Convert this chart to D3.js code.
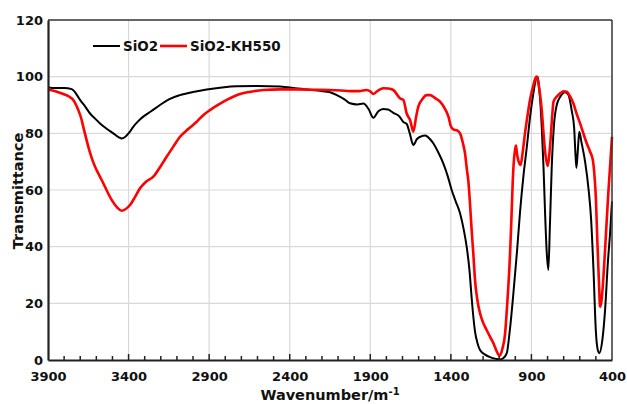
<!DOCTYPE html>
<html><head><meta charset="utf-8">
<script src="https://cdn.jsdelivr.net/npm/d3@7"></script>
<style>body{margin:0;background:#fff}svg{display:block}text{font-family:"DejaVu Sans",sans-serif;font-weight:bold}</style>
</head><body><svg id="c" width="627" height="404"></svg>
<script>
const sio2W = [3900,3850,3800,3753,3720,3701,3670,3639,3608,3577,3540,3495,3460,3443,3420,3395,3371,3340,3309,3260,3205,3150,3081,3000,2915,2820,2729,2600,2460,2350,2212,2150,2108,2060,2026,1980,1943,1910,1881,1850,1819,1790,1757,1720,1695,1674,1655,1633,1610,1581,1560,1530,1509,1480,1447,1420,1395,1370,1343,1320,1302,1285,1271,1260,1250,1235,1219,1190,1157,1120,1095,1075,1053,1035,1012,990,971,950,929,908,888,870,861,850,836,825,816,805,795,785,774,760,743,720,692,670,650,635,628,621,612,603,590,567,545,530,515,500,490,479,460,443,425,412,400];
const sio2T = [96.2,96.0,96.0,95.6,93.5,91.8,89.5,87,85.2,83.5,81.8,80,78.6,78.2,78.8,80.3,82.3,84.3,85.9,87.8,90,92,93.5,94.6,95.5,96.2,96.6,96.7,96.5,95.8,95,94.5,93.5,92,90.6,90.2,90.5,88.5,85.5,87.8,88.6,88.4,87.2,86,84,83.3,80,75.9,78,79,79.2,78,76.5,73.5,69.4,65,60,56,51.8,46,40,32,22,15,10,6,3.5,2,1,0.4,0.2,0.6,2.4,10,23.5,38,52,64.7,75,86,94.1,99.5,100,95,82.3,68,53,38,31.8,48,68,83,90,93,94.5,93.5,88,82,74,67.8,74,80.6,77,70,60,50,32,10,4,2.4,7,17.6,35,44.7,56];
const khW = [3900,3850,3805,3770,3743,3712,3695,3681,3650,3630,3608,3580,3557,3530,3505,3470,3443,3420,3391,3360,3329,3290,3246,3200,3163,3120,3081,3030,2977,2935,2895,2840,2791,2740,2708,2640,2564,2460,2357,2250,2150,2080,2026,1970,1922,1900,1881,1850,1819,1790,1757,1716,1695,1674,1653,1633,1615,1602,1580,1550,1529,1500,1467,1440,1415,1400,1385,1360,1343,1325,1312,1300,1292,1281,1271,1260,1250,1235,1219,1200,1178,1155,1136,1115,1098,1080,1064,1050,1033,1024,1016,1008,1002,996,990,982,967,955,940,925,909,890,875,867,855,836,825,816,799,790,780,770,763,745,722,700,681,660,640,620,598,575,557,536,519,510,500,491,480,474,465,453,440,423,410,400];
const khT = [95.5,94.8,93.9,93,91.8,88.2,85.5,82.3,75.3,71.5,68.2,65,62.4,59.2,56.5,53.8,52.7,53.2,54.7,57.5,60.6,63,64.7,68.5,71.8,75.5,78.8,81.5,84.1,86.5,88.2,90.2,91.8,93.2,93.9,94.7,95.3,95.5,95.5,95.4,95.3,95.1,94.9,94.9,95.3,94.8,93.9,95.2,95.9,95.8,95.3,92.4,91.8,87,84.7,80.6,86,89.4,91.8,93.5,93.5,92.5,91.2,89,85.9,82.5,81.4,81,80,76.5,72.9,67,63.5,55,45.9,37,28.2,21,16.5,13.2,10.6,8,5.9,3,1.5,4,9,20,37,50,63,71,74,75.7,73,70.6,68.8,73,80,86,91.8,96.5,99.5,100,97,88.2,80,74.1,68.5,72,78.8,87,91.2,92.8,94.1,94.8,94.7,93,90.6,87,83.5,79.5,76.5,73.5,70.6,66,57,42,26,18.8,21,29.4,42,58.8,70,78.8];
const xTicks = [3900,3400,2900,2400,1900,1400,900,400];
const yTicks = [0,20,40,60,80,100,120];
const seriesNames = ["SiO2","SiO2-KH550"];
const seriesColors = ["#000000","#ff0000"];

const svg = d3.select("#c");
const L=48,R=612,T=20,B=360;
const x = d3.scaleLinear().domain([3900,400]).range([L,R]);
const y = d3.scaleLinear().domain([0,120]).range([B,T]);

// grid
svg.append("g").selectAll("line").data(xTicks.slice(1,-1)).join("line")
  .attr("x1",d=>x(d)).attr("x2",d=>x(d)).attr("y1",T).attr("y2",B)
  .attr("stroke","#d9d9d9").attr("stroke-width",1.2);
svg.append("g").selectAll("line").data(yTicks.slice(1,-1)).join("line")
  .attr("x1",L).attr("x2",R).attr("y1",d=>y(d)).attr("y2",d=>y(d))
  .attr("stroke","#d9d9d9").attr("stroke-width",1.2);

// lines
const line = d3.line().x(d=>x(d[0])).y(d=>y(d[1])).curve(d3.curveMonotoneX);
const sets = [d3.zip(sio2W,sio2T), d3.zip(khW,khT)];
svg.append("path").datum(sets[0]).attr("d",line).attr("fill","none").attr("stroke",seriesColors[0]).attr("stroke-width",2).attr("stroke-linejoin","round");
svg.append("path").datum(sets[1]).attr("d",line).attr("fill","none").attr("stroke",seriesColors[1]).attr("stroke-width",2.6).attr("stroke-linejoin","round");

// frame
svg.append("line").attr("x1",L).attr("x2",R).attr("y1",T).attr("y2",T).attr("stroke","#333").attr("stroke-width",1.5);
svg.append("line").attr("x1",R).attr("x2",R).attr("y1",T).attr("y2",B).attr("stroke","#333").attr("stroke-width",1.5);

// x axis
const xAxis = d3.axisBottom(x).tickValues(xTicks).tickSize(0).tickPadding(12).tickFormat(d3.format("d"));
const gx = svg.append("g").attr("transform",`translate(0,${B})`).call(xAxis);
gx.select(".domain").attr("stroke","#222").attr("stroke-width",2.2);
gx.selectAll("text").attr("font-size",13).attr("fill","#111").attr("font-family","DejaVu Sans").attr("font-weight","bold");
// inward ticks
const minor = d3.range(3800,400,-100);
svg.append("g").selectAll("line").data(minor).join("line")
  .attr("x1",d=>x(d)).attr("x2",d=>x(d)).attr("y1",B).attr("y2",d=>d%500===400%500? B-6 : B-4)
  .attr("stroke","#222").attr("stroke-width",1.5);

// y axis
const yAxis = d3.axisLeft(y).tickValues(yTicks).tickSize(0).tickPadding(5);
const gy = svg.append("g").attr("transform",`translate(${L},0)`).call(yAxis);
gy.select(".domain").attr("stroke","#222").attr("stroke-width",2.2);
gy.selectAll("text").attr("font-size",13).attr("fill","#111").attr("font-family","DejaVu Sans").attr("font-weight","bold");

// titles
const xt = svg.append("text").attr("x",330).attr("y",400).attr("text-anchor","middle").attr("font-size",14.5).attr("fill","#111");
xt.append("tspan").text("Wavenumber/m");
xt.append("tspan").attr("dy",-5).attr("font-size",10).text("-1");
svg.append("text").attr("transform","translate(23,191) rotate(-90)").attr("text-anchor","middle").attr("font-size",14.5).attr("fill","#111").text("Transmittance");

// legend
const lg = svg.append("g");
const lx = [93,160], tx = [123,190];
seriesNames.forEach((n,i)=>{
  lg.append("line").attr("x1",lx[i]).attr("x2",lx[i]+27).attr("y1",46).attr("y2",46).attr("stroke",seriesColors[i]).attr("stroke-width",i?2.6:2);
  lg.append("text").attr("x",tx[i]).attr("y",51).attr("font-size",13.5).attr("fill","#111").text(n);
});
</script></body></html>
